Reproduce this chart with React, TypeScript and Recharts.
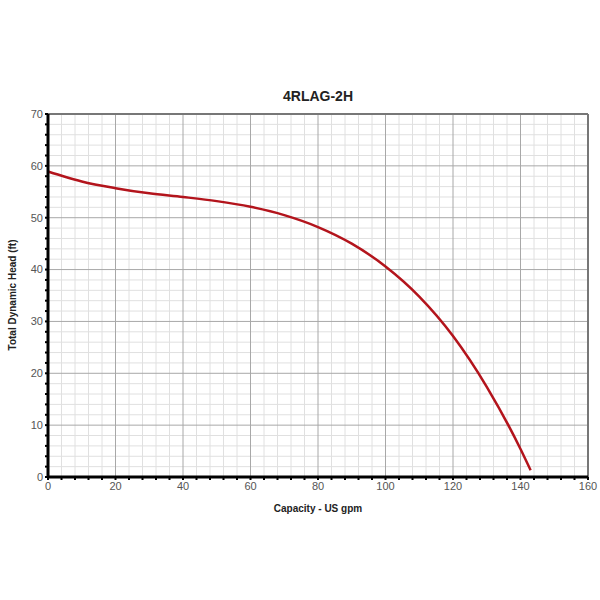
import { LineChart, Line, XAxis, YAxis, ReferenceLine } from 'recharts';

// pump curve
const capacity = [0, 5, 10, 20, 30, 40, 50, 60, 70, 80, 90, 100, 110, 120, 130, 140, 143];
const head = [58.9, 57.9, 57, 55.7, 54.7, 54, 53.2, 52.1, 50.5, 48.2, 45.0, 40.6, 34.8, 27.2, 17.4, 5.4, 1.3];

const xMajor = [0, 20, 40, 60, 80, 100, 120, 140, 160];
const yMajor = [0, 10, 20, 30, 40, 50, 60, 70];
const xMinor = [4, 8, 12, 16, 24, 28, 32, 36, 44, 48, 52, 56, 64, 68, 72, 76, 84, 88, 92, 96, 104, 108, 112, 116, 124, 128, 132, 136, 144, 148, 152, 156];
const yMinor = [2, 4, 6, 8, 12, 14, 16, 18, 22, 24, 26, 28, 32, 34, 36, 38, 42, 44, 46, 48, 52, 54, 56, 58, 62, 64, 66, 68];

const xTicks = [...xMajor, ...xMinor].sort((a, b) => a - b);
const yTicks = [...yMajor, ...yMinor].sort((a, b) => a - b);

const chartData = capacity.map((c, i) => ({ capacity: c, head: head[i] }));

const FONT = '"Liberation Sans", Arial, sans-serif';
const RED = '#b3141c';

export default function App() {
  return (
    <div style={{ position: 'absolute', left: 0, top: 0, width: 600, height: 600, background: '#fff', fontFamily: FONT }}>
      <div style={{ position: 'absolute', left: 0, width: 600, top: 88, textAlign: 'center', paddingLeft: 36, boxSizing: 'border-box', fontSize: 14, fontWeight: 'bold', color: '#222' }}>
        4RLAG-2H
      </div>
      <div style={{ position: 'absolute', left: 0, width: 600, top: 503, textAlign: 'center', paddingLeft: 36, boxSizing: 'border-box', fontSize: 10, fontWeight: 'bold', color: '#222' }}>
        Capacity - US gpm
      </div>
      <div style={{ position: 'absolute', left: 12, top: 295, transform: 'translate(-50%, -50%) rotate(-90deg)', whiteSpace: 'nowrap', fontSize: 10, fontWeight: 'bold', color: '#222' }}>
        Total Dynamic Head (ft)
      </div>
      <LineChart width={600} height={600} data={chartData} margin={{ top: 114, right: 12, left: 0, bottom: 93 }}>
        <XAxis
          dataKey="capacity"
          type="number"
          domain={[0, 160]}
          ticks={xTicks}
          interval={0}
          height={30}
          tickFormatter={(v) => (xMajor.includes(v) ? String(v) : '')}
          axisLine={{ stroke: '#000', strokeWidth: 3 }}
          tickLine={{ stroke: '#000', strokeWidth: 2 }}
          tickSize={3}
          tick={{ fill: '#555', fontSize: 11, fontFamily: FONT }}
        />
        <YAxis
          type="number"
          domain={[0, 70]}
          ticks={yTicks}
          interval={0}
          width={48}
          tickFormatter={(v) => (yMajor.includes(v) ? String(v) : '')}
          axisLine={{ stroke: '#000', strokeWidth: 3 }}
          tickLine={{ stroke: '#000', strokeWidth: 2 }}
          tickSize={3}
          tick={{ fill: '#555', fontSize: 11, fontFamily: FONT }}
        />
        {xMinor.map((v) => (
          <ReferenceLine key={'xm' + v} x={v} stroke="#e0e0e0" strokeWidth={1} />
        ))}
        {yMinor.map((v) => (
          <ReferenceLine key={'ym' + v} y={v} stroke="#e0e0e0" strokeWidth={1} />
        ))}
        {xMajor.slice(1, -1).map((v) => (
          <ReferenceLine key={'xM' + v} x={v} stroke="#a8a8a8" strokeWidth={1} />
        ))}
        {yMajor.slice(1, -1).map((v) => (
          <ReferenceLine key={'yM' + v} y={v} stroke="#a8a8a8" strokeWidth={1} />
        ))}
        <ReferenceLine y={70} stroke="#777" strokeWidth={2} />
        <ReferenceLine x={160} stroke="#777" strokeWidth={2} />
        <Line
          type="monotone"
          dataKey="head"
          stroke={RED}
          strokeWidth={2.5}
          dot={false}
          isAnimationActive={false}
        />
      </LineChart>
    </div>
  );
}
